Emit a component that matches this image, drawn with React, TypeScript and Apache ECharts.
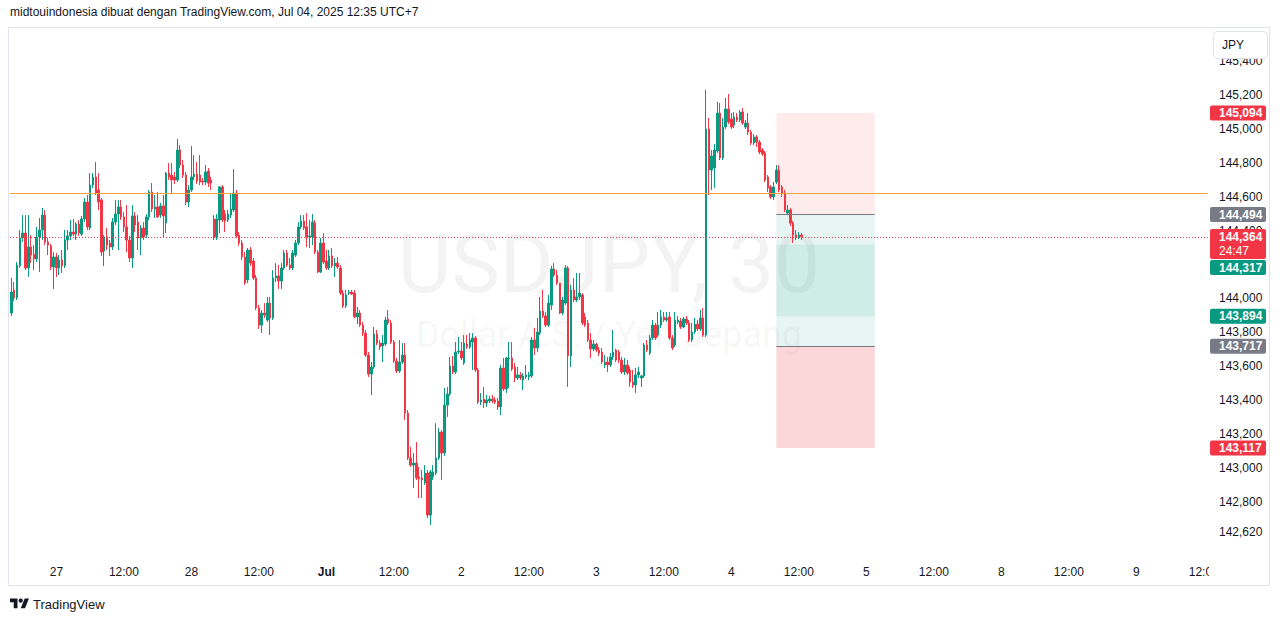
import React, { useEffect, useRef } from 'react';
import * as echarts from 'echarts';

// ---- OHLC data, [open, close, low, high], 30-minute candles ----
const jun26 = [
  [143.913,144.037,143.896,144.120],[144.049,144.002,143.984,144.096],[144.002,144.196,143.990,144.214],[144.191,144.356,144.179,144.403],
  [144.356,144.385,144.332,144.491],[144.385,144.179,144.167,144.491],[144.179,144.303,144.126,144.491],[144.303,144.255,144.208,144.373],
  [144.261,144.232,144.167,144.314],[144.232,144.362,144.214,144.421],[144.362,144.403,144.155,144.474],[144.403,144.491,144.344,144.533],
  [144.491,144.332,144.314,144.521],[144.332,144.314,144.255,144.356],[144.309,144.185,144.167,144.320],[144.185,144.244,144.055,144.273],
];
const jun27 = [
  [144.244,144.179,144.126,144.267],[144.179,144.226,144.137,144.255],[144.226,144.191,144.149,144.285],[144.191,144.344,144.179,144.403],
  [144.344,144.368,144.285,144.403],[144.368,144.391,144.344,144.462],[144.391,144.379,144.368,144.468],[144.379,144.438,144.344,144.450],
  [144.438,144.385,144.368,144.462],[144.379,144.468,144.368,144.486],[144.468,144.568,144.450,144.592],[144.568,144.421,144.403,144.609],
  [144.415,144.668,144.403,144.739],[144.668,144.716,144.651,144.739],[144.716,144.621,144.609,144.804],[144.639,144.568,144.521,144.739],
  [144.580,144.273,144.250,144.592],[144.279,144.362,144.191,144.373],[144.362,144.314,144.285,144.415],[144.326,144.303,144.250,144.344],
  [144.303,144.450,144.285,144.474],[144.450,144.497,144.432,144.580],[144.497,144.539,144.285,144.580],[144.539,144.480,144.462,144.580],
  [144.480,144.421,144.391,144.509],[144.421,144.344,144.273,144.550],[144.344,144.238,144.214,144.368],[144.238,144.486,144.179,144.550],
  [144.486,144.432,144.391,144.509],[144.450,144.356,144.285,144.491],[144.356,144.415,144.255,144.432],[144.415,144.362,144.344,144.450],
  [144.373,144.480,144.356,144.497],[144.480,144.627,144.462,144.639],[144.627,144.527,144.509,144.680],[144.527,144.539,144.474,144.609],
  [144.539,144.480,144.474,144.627],[144.491,144.545,144.474,144.562],[144.545,144.486,144.356,144.609],[144.444,144.739,144.385,144.745],
  [144.739,144.716,144.698,144.798],[144.727,144.698,144.621,144.798],[144.716,144.698,144.674,144.745],[144.698,144.875,144.686,144.940],
  [144.875,144.786,144.769,144.904],[144.786,144.727,144.710,144.816],[144.727,144.568,144.550,144.745],[144.568,144.639,144.539,144.668],
];
const sat28 = [
  [144.639,144.716,144.627,144.899],[144.716,144.733,144.698,144.845],[144.733,144.692,144.674,144.804],[144.727,144.686,144.668,144.845],
  [144.692,144.686,144.668,144.710],[144.686,144.745,144.668,144.786],[144.751,144.680,144.657,144.769],[144.698,144.680,144.639,144.716],
];
const jun30 = [
  [144.468,144.362,144.344,144.491],[144.362,144.468,144.344,144.497],[144.462,144.657,144.385,144.663],[144.657,144.462,144.450,144.668],
  [144.497,144.456,144.391,144.521],[144.462,144.497,144.450,144.521],[144.491,144.527,144.474,144.621],[144.521,144.621,144.509,144.763],
  [144.621,144.368,144.356,144.639],[144.373,144.326,144.309,144.391],[144.326,144.244,144.226,144.344],[144.244,144.090,144.079,144.273],
  [144.108,144.285,144.090,144.297],[144.285,144.208,144.191,144.303],[144.220,144.120,144.108,144.238],[144.120,143.943,143.931,144.137],
  [143.943,143.842,143.819,143.960],[143.842,143.913,143.795,143.931],[143.913,143.901,143.884,143.972],[143.872,143.972,143.860,144.008],
  [143.972,143.884,143.783,144.008],[143.884,144.120,143.872,144.167],[144.120,144.132,144.096,144.208],[144.132,144.102,144.055,144.196],
  [144.102,144.179,144.055,144.208],[144.179,144.267,144.167,144.285],[144.267,144.196,144.185,144.285],[144.196,144.179,144.167,144.238],
  [144.179,144.267,144.167,144.285],[144.255,144.326,144.244,144.344],[144.326,144.421,144.314,144.450],[144.421,144.456,144.409,144.491],
  [144.456,144.415,144.403,144.491],[144.421,144.362,144.303,144.503],[144.362,144.368,144.297,144.462],[144.362,144.450,144.314,144.497],
  [144.444,144.273,144.261,144.462],[144.273,144.155,144.149,144.285],[144.155,144.326,144.149,144.356],[144.326,144.214,144.202,144.385],
];
const jul1 = [
  [144.220,144.179,144.167,144.285],[144.179,144.250,144.167,144.285],[144.250,144.191,144.179,144.297],[144.191,144.208,144.126,144.238],
  [144.208,144.185,144.173,144.244],[144.179,144.031,144.020,144.196],[144.031,143.955,143.943,144.049],[143.955,144.020,143.943,144.049],
  [144.031,144.037,144.020,144.049],[144.037,144.025,144.020,144.049],[144.031,143.890,143.884,144.049],[143.890,143.913,143.848,143.949],
  [143.913,143.842,143.831,143.931],[143.842,143.795,143.778,143.860],[143.795,143.665,143.654,143.813],[143.665,143.553,143.536,143.683],
  [143.553,143.595,143.429,143.624],[143.595,143.789,143.583,143.831],[143.789,143.736,143.724,143.813],[143.736,143.713,143.695,143.754],
  [143.719,143.736,143.624,143.783],[143.730,143.872,143.719,143.890],[143.878,143.854,143.842,143.931],[143.854,143.742,143.730,143.872],
  [143.742,143.630,143.618,143.754],[143.630,143.571,143.559,143.648],[143.571,143.624,143.559,143.754],[143.624,143.665,143.612,143.736],
  [143.665,143.323,143.282,143.736],[143.323,143.058,143.046,143.341],[143.058,143.016,143.005,143.123],[143.016,143.028,142.881,143.087],
  [143.028,142.940,142.928,143.152],[142.946,142.934,142.822,143.005],[142.940,142.928,142.822,142.987],[142.910,142.969,142.899,143.016],
  [142.969,142.721,142.704,142.987],[142.721,142.975,142.663,142.987],[142.946,142.975,142.928,143.016],[142.969,143.058,142.957,143.264],
  [143.058,143.211,143.046,143.235],[143.211,143.087,142.928,143.223],[143.087,143.370,143.070,143.471],[143.370,143.435,143.300,143.477],
  [143.435,143.601,143.424,143.654],[143.601,143.565,143.553,143.660],[143.565,143.683,143.553,143.742],[143.683,143.689,143.671,143.772],
];
const jul2 = [
  [143.689,143.648,143.636,143.742],[143.618,143.736,143.607,143.783],[143.730,143.713,143.701,143.783],[143.713,143.754,143.701,143.795],
  [143.742,143.766,143.577,143.795],[143.766,143.577,143.565,143.778],[143.577,143.388,143.376,143.589],[143.388,143.400,143.370,143.441],
  [143.406,143.382,143.353,143.477],[143.382,143.400,143.359,143.430],[143.394,143.406,143.382,143.424],[143.406,143.394,143.382,143.430],
  [143.400,143.388,143.376,143.418],[143.394,143.359,143.341,143.412],[143.359,143.589,143.311,143.607],[143.589,143.465,143.453,143.648],
  [143.465,143.648,143.441,143.654],[143.642,143.648,143.471,143.742],[143.648,143.583,143.571,143.742],[143.595,143.530,143.506,143.618],
  [143.530,143.548,143.518,143.595],[143.548,143.530,143.518,143.565],[143.518,143.542,143.459,143.559],[143.536,143.548,143.524,143.607],
  [143.536,143.548,143.518,143.565],[143.542,143.754,143.530,143.772],[143.754,143.707,143.665,143.825],[143.707,143.801,143.683,143.884],
  [143.795,143.925,143.783,144.008],[143.925,143.896,143.884,144.049],[143.896,143.842,143.831,143.919],[143.842,143.972,143.831,144.020],
  [143.960,144.173,143.931,144.191],[144.173,144.137,144.126,144.208],[144.137,144.090,144.079,144.167],[144.090,143.913,143.907,144.049],
  [143.913,143.990,143.901,144.008],[143.972,144.179,143.960,144.196],[144.179,143.660,143.477,144.191],[143.660,144.049,143.595,144.079],
  [144.049,143.990,143.978,144.120],[143.990,144.008,143.978,144.149],[144.008,144.031,143.990,144.149],[144.020,143.854,143.842,144.031],
  [143.890,143.842,143.831,143.913],[143.854,143.754,143.742,143.872],[143.754,143.701,143.648,143.795],[143.701,143.730,143.689,143.754],
];
const jul3 = [
  [143.730,143.695,143.683,143.736],[143.695,143.677,143.660,143.713],[143.683,143.624,143.612,143.707],[143.607,143.624,143.589,143.665],
  [143.624,143.607,143.565,143.654],[143.607,143.654,143.595,143.677],[143.654,143.683,143.636,143.813],[143.695,143.636,143.624,143.701],
  [143.683,143.636,143.618,143.695],[143.636,143.565,143.553,143.654],[143.565,143.607,143.548,143.648],[143.607,143.559,143.548,143.636],
  [143.577,143.506,143.477,143.595],[143.506,143.489,143.471,143.577],[143.489,143.548,143.441,143.589],[143.548,143.565,143.530,143.595],
  [143.530,143.542,143.477,143.548],[143.542,143.724,143.530,143.736],[143.724,143.695,143.683,143.754],[143.677,143.766,143.665,143.783],
  [143.766,143.842,143.754,143.872],[143.842,143.766,143.754,143.854],[143.783,143.842,143.772,143.919],[143.842,143.890,143.825,143.931],
  [143.890,143.872,143.860,143.919],[143.872,143.884,143.860,143.919],[143.890,143.766,143.754,143.919],[143.766,143.707,143.695,143.783],
  [143.724,143.872,143.713,143.919],[143.860,143.872,143.848,143.896],[143.866,143.831,143.819,143.884],[143.831,143.878,143.825,143.890],
  [143.878,143.854,143.842,143.896],[143.854,143.754,143.742,143.872],[143.754,143.801,143.742,143.854],[143.801,143.848,143.789,143.884],
  [143.848,143.819,143.807,143.872],[143.819,143.884,143.807,143.931],[143.884,143.783,143.772,143.943],[143.783,144.999,143.772,145.229],
  [144.999,144.757,144.609,145.064],[144.757,144.840,144.639,144.875],[144.769,144.875,144.651,144.910],[144.869,145.093,144.857,145.158],
  [145.093,144.828,144.816,145.152],[144.828,145.011,144.816,145.064],[145.011,145.117,144.999,145.182],[145.117,145.040,145.028,145.205],
];
const jul4 = [
  [145.058,145.011,144.999,145.093],[145.023,145.070,145.005,145.099],[145.070,145.052,145.040,145.093],[145.052,145.099,145.040,145.111],
  [145.099,145.034,145.023,145.123],[145.011,145.034,144.999,145.052],[145.034,144.981,144.964,145.093],[144.981,144.916,144.904,144.993],
  [144.916,144.952,144.904,144.969],[144.952,144.922,144.893,144.963],[144.922,144.863,144.851,144.934],[144.875,144.851,144.840,144.887],
  [144.857,144.698,144.686,144.869],[144.716,144.651,144.627,144.727],[144.657,144.598,144.586,144.668],[144.598,144.657,144.580,144.686],
  [144.686,144.757,144.674,144.786],[144.757,144.639,144.627,144.786],[144.657,144.621,144.598,144.668],[144.621,144.521,144.509,144.639],
  [144.503,144.521,144.491,144.550],[144.521,144.444,144.426,144.533],[144.444,144.373,144.326,144.456],[144.373,144.362,144.344,144.403],
  [144.362,144.373,144.350,144.391],[144.373,144.364,144.344,144.385],
];

// ---- axis ticks ----
const timeTickSlots = [16, 40, 64, 88, 112, 136, 160, 184, 208, 232, 256, 280, 304, 328, 352, 376, 400, 424];
const timeTickLabels = ['27', '12:00', '28', '12:00', 'Jul', '12:00', '2', '12:00', '3', '12:00', '4', '12:00', '5', '12:00', '8', '12:00', '9', '12:00'];
// 144,200 is entirely hidden behind the price tags in the reference, so it is left out
const priceTicks = [145.4, 145.2, 145.0, 144.8, 144.6, 144.4, 144.0, 143.8, 143.6, 143.4, 143.2, 143.0, 142.8, 142.62];

// ---- drawings / levels ----
const lastPrice = 144.364;
const countdown = '24:47';
const horizontalLine = 144.621;
const shortPos = { stop: 145.094, entry: 144.494, target: 143.894 };
const longPos = { target: 144.317, entry: 143.717, stop: 143.117 };
const posFrom = 272;
const posTo = 307;
const priceTags = [
  { price: 145.094, color: '#f23645' },
  { price: 144.494, color: '#787b86' },
  { price: 144.364, color: '#f23645', sub: countdown },
  { price: 144.317, color: '#089981' },
  { price: 143.894, color: '#089981' },
  { price: 143.717, color: '#787b86' },
  { price: 143.117, color: '#f23645' },
];

const SLOTS = 426;
const FONT = '"Liberation Sans", Arial, sans-serif';
const UP = '#089981';
const DOWN = '#f23645';

const fmt = (v: number) => v.toFixed(3).replace('.', ',');

const TV_LOGO = 'M14 22H7V11H0V4h14v18zM28 22h-8l7.5-18h8L28 22zM24 8a4 4 0 1 1-8 0a4 4 0 1 1 8 0z';
let logoRegistered = false;

export default function App() {
  const ref = useRef<HTMLDivElement>(null);

  useEffect(() => {
    if (!ref.current) return;
    if (!logoRegistered) {
      echarts.graphic.registerShape('tvlogo', echarts.graphic.extendPath(TV_LOGO, {}));
      logoRegistered = true;
    }
    const chart = echarts.init(ref.current, null, { renderer: 'svg' });
    const candles = [...jun26, ...jun27, ...sat28, ...jun30, ...jul1, ...jul2, ...jul3, ...jul4];
    const slots = Array.from({ length: SLOTS }, (_, i) => String(i));

    chart.setOption({
      animation: false,
      backgroundColor: '#ffffff',
      grid: { left: 10, right: 73, top: 28, bottom: 60, containLabel: false, outerBoundsMode: 'none' },
      xAxis: {
        type: 'category',
        data: slots,
        boundaryGap: true,
        axisLine: { show: false },
        axisTick: { show: false },
        splitLine: { show: false },
        axisLabel: {
          interval: (idx: number) => timeTickSlots.includes(idx),
          formatter: (_v: string, idx: number) => {
            const k = timeTickSlots.indexOf(idx);
            if (k < 0) return '';
            const t = timeTickLabels[k];
            return t === 'Jul' ? '{b|Jul}' : t;
          },
          color: '#131722',
          fontSize: 12,
          fontFamily: FONT,
          margin: 5,
          rich: { b: { fontWeight: 'bold', fontSize: 12, fontFamily: FONT, color: '#131722' } },
        },
      },
      yAxis: {
        type: 'value',
        position: 'right',
        min: 142.4501,
        max: 145.5948,
        scale: true,
        axisLine: { show: false },
        axisTick: { show: false, customValues: priceTicks },
        splitLine: { show: false },
        axisLabel: {
          customValues: priceTicks,
          formatter: (v: number) => fmt(v),
          color: '#131722',
          fontSize: 12,
          fontFamily: FONT,
          margin: 11,
        },
      },
      series: [
        {
          type: 'candlestick',
          data: candles,
          barWidth: 2,
          itemStyle: { color: UP, color0: DOWN, borderColor: UP, borderColor0: DOWN, borderWidth: 1 },
          markArea: {
            silent: true,
            data: [
              [{ xAxis: posFrom, yAxis: shortPos.stop, itemStyle: { color: 'rgba(242,54,69,0.1)' } }, { xAxis: posTo, yAxis: shortPos.entry }],
              [{ xAxis: posFrom, yAxis: shortPos.entry, itemStyle: { color: 'rgba(8,153,129,0.1)' } }, { xAxis: posTo, yAxis: shortPos.target }],
              [{ xAxis: posFrom, yAxis: longPos.target, itemStyle: { color: 'rgba(8,153,129,0.1)' } }, { xAxis: posTo, yAxis: longPos.entry }],
              [{ xAxis: posFrom, yAxis: longPos.entry, itemStyle: { color: 'rgba(242,54,69,0.2)' } }, { xAxis: posTo, yAxis: longPos.stop }],
            ],
          },
          markLine: {
            silent: true,
            symbol: ['none', 'none'],
            label: { show: false },
            data: [
              { yAxis: horizontalLine, lineStyle: { color: '#f5a43a', width: 1, type: 'solid' } },
              { yAxis: lastPrice, lineStyle: { color: DOWN, width: 1, type: [1, 2] } },
              [{ coord: [posFrom, shortPos.entry], lineStyle: { color: '#787b86', width: 1, type: 'solid' } }, { coord: [posTo, shortPos.entry] }],
              [{ coord: [posFrom, longPos.entry], lineStyle: { color: '#787b86', width: 1, type: 'solid' } }, { coord: [posTo, longPos.entry] }],
            ],
          },
        },
      ],
    });

    // price tags on the price scale, positioned through the y axis scale
    const tagEls: any[] = [];
    let prevBottom = -Infinity;
    const sorted = [...priceTags].sort((a, b) => b.price - a.price);
    for (const t of sorted) {
      const y = chart.convertToPixel({ yAxisIndex: 0 }, t.price) as number;
      const h = t.sub ? 30 : 15;
      let top = y - 7.5;
      if (top < prevBottom + 1) top = prevBottom + 1;
      prevBottom = top + h;
      tagEls.push({ type: 'rect', z: 100, shape: { x: 1210, y: top, width: 56, height: h, r: 2 }, style: { fill: t.color } });
      tagEls.push({ type: 'text', z: 101, x: 1219, y: top + 7.5, style: { text: fmt(t.price), fill: '#ffffff', font: `bold 12px ${FONT}`, verticalAlign: 'middle', align: 'left' } });
      if (t.sub) {
        tagEls.push({ type: 'text', z: 101, x: 1219, y: top + 22, style: { text: t.sub, fill: '#ffffff', font: `12px ${FONT}`, verticalAlign: 'middle', align: 'left' } });
      }
    }

    chart.setOption({
      graphic: [
        { type: 'text', z: 0, x: 609, y: 264, style: { text: 'USDJPY, 30', fill: 'rgba(19,23,34,0.05)', font: '82px Roboto', align: 'center', verticalAlign: 'middle' } },
        { type: 'text', z: 0, x: 609, y: 335, style: { text: 'Dollar A.S. / Yen Jepang', fill: 'rgba(19,23,34,0.05)', font: '36px Roboto', align: 'center', verticalAlign: 'middle' } },
        { type: 'text', z: 100, x: 10, y: 12, style: { text: 'midtouindonesia dibuat dengan TradingView.com, Jul 04, 2025 12:35 UTC+7', fill: '#131722', font: `12px ${FONT}`, verticalAlign: 'middle', align: 'left' } },
        { type: 'rect', z: 90, shape: { x: 1209, y: 562, width: 59, height: 22 }, style: { fill: '#ffffff' } },
        { type: 'rect', z: 99, shape: { x: 8.5, y: 27.5, width: 1261, height: 558 }, style: { fill: 'none', stroke: '#e0e3eb', lineWidth: 1 } },
        { type: 'rect', z: 110, shape: { x: 1213.5, y: 31.5, width: 54, height: 27, r: 4 }, style: { fill: '#ffffff', stroke: '#e0e3eb', lineWidth: 1 } },
        { type: 'text', z: 111, x: 1222, y: 45, style: { text: 'JPY', fill: '#131722', font: `12px ${FONT}`, verticalAlign: 'middle', align: 'left' } },
        { type: 'tvlogo', z: 100, x: 10, y: 596.4, scaleX: 0.535, scaleY: 0.535, style: { fill: '#131722' } },
        { type: 'text', z: 100, x: 33, y: 604, style: { text: 'TradingView', fill: '#131722', font: `13px ${FONT}`, verticalAlign: 'middle', align: 'left' } },
        ...tagEls,
      ],
    });

    return () => chart.dispose();
  }, []);

  return <div ref={ref} style={{ position: 'fixed', left: 0, top: 0, width: 1281, height: 621, background: '#fff' }} />;
}
